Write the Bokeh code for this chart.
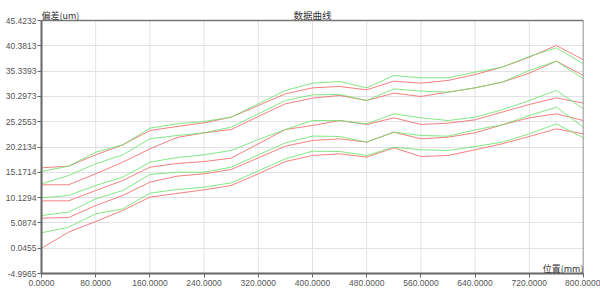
from bokeh.plotting import figure
from bokeh.models import FixedTicker, Label, Range1d
from bokeh.embed import file_html
from bokeh.resources import INLINE

# ---- data ----
x_mm = [0, 40, 80, 120, 160, 200, 240, 280, 320, 360, 400,
        440, 480, 520, 560, 600, 640, 680, 720, 760, 800]

red_a = [16.06, 16.39, 18.65, 20.65, 23.50, 24.30, 25.03, 26.16, 28.48, 30.81, 32.00,
         32.27, 31.61, 33.33, 32.94, 33.47, 34.66, 36.12, 38.12, 40.44, 37.58]
green_a = [15.33, 16.39, 19.18, 20.65, 23.97, 24.83, 25.30, 26.16, 28.82, 31.47, 32.93,
           33.27, 32.00, 34.46, 34.00, 34.00, 35.13, 36.12, 38.25, 39.98, 36.79]
green_b = [12.87, 14.53, 16.86, 18.65, 21.84, 22.51, 23.04, 24.17, 26.82, 29.48, 30.61,
           30.67, 29.48, 31.80, 31.34, 31.14, 32.00, 33.13, 35.46, 37.32, 33.80]
red_b = [12.68, 12.68, 14.87, 17.19, 19.85, 22.11, 23.04, 23.70, 26.29, 28.82, 29.95,
         30.48, 29.48, 30.94, 30.28, 31.14, 32.00, 33.13, 34.93, 37.32, 34.46]
green_c = [10.08, 10.55, 12.54, 14.20, 17.19, 18.12, 18.65, 19.52, 21.71, 23.70, 25.49,
           25.48, 24.83, 26.82, 26.03, 25.49, 26.16, 27.62, 29.48, 31.47, 27.82]
red_c = [9.48, 9.48, 11.54, 13.54, 16.19, 16.92, 17.32, 17.99, 20.85, 23.70, 24.50,
         25.48, 24.70, 26.03, 24.70, 24.96, 25.63, 27.16, 28.68, 30.01, 28.95]
green_d = [6.56, 7.23, 9.88, 11.54, 14.73, 15.20, 15.20, 16.19, 18.65, 21.04, 22.39,
           22.31, 21.18, 23.17, 22.51, 22.37, 23.63, 24.63, 26.49, 28.15, 24.17]
red_d = [6.03, 6.16, 8.55, 10.55, 13.21, 14.40, 14.87, 15.73, 18.05, 20.38, 21.51,
         21.84, 21.18, 23.17, 21.84, 22.17, 23.04, 24.63, 26.03, 26.82, 25.49]
green_e = [3.11, 4.24, 6.89, 7.89, 11.01, 11.74, 12.21, 13.07, 15.46, 17.86, 19.38,
           19.32, 18.52, 20.18, 19.65, 19.52, 20.31, 21.18, 22.84, 24.83, 22.04]
red_e = [0.05, 3.24, 5.37, 7.56, 10.22, 10.95, 11.68, 12.54, 14.87, 17.32, 18.52,
         18.85, 18.19, 20.05, 18.32, 18.52, 19.65, 20.85, 22.31, 23.83, 22.84]

red_series = [red_a, red_b, red_c, red_d, red_e]
green_series = [green_a, green_b, green_c, green_d, green_e]

x_ticks = [0, 80, 160, 240, 320, 400, 480, 560, 640, 720, 800]
x_tick_labels = ["0.0000", "80.0000", "160.0000", "240.0000", "320.0000", "400.0000",
                 "480.0000", "560.0000", "640.0000", "720.0000", "800.0000"]
y_ticks = [-4.9965, 0.04547, 5.08744, 10.12941, 15.17138, 20.21335,
           25.25532, 30.29729, 35.33926, 40.38123, 45.4232]
y_tick_labels = ["-4.9965", "0.0455", "5.0874", "10.1294", "15.1714", "20.2134",
                 "25.2553", "30.2973", "35.3393", "40.3813", "45.4232"]

title_text = "数据曲线"
x_label = "位置(mm)"
y_label = "偏差(um)"

y_min = y_ticks[0]
y_max = y_ticks[-1]
x_min = x_ticks[0]
x_max = x_ticks[-1]
px_per_unit = 253 / (y_max - y_min)          # plot body is 253 px tall
y_top_room = y_max + 20 / px_per_unit        # 20 px of room above the body

# ---- figure ----
p = figure(width=600, height=290, output_backend="svg", toolbar_location=None,
           x_range=Range1d(x_min, x_max), y_range=Range1d(y_min, y_top_room),
           min_border_left=41, min_border_right=17, min_border_top=0,
           min_border_bottom=17)
p.background_fill_color = "white"
p.border_fill_color = "white"
p.outline_line_color = None

for ax in (p.xaxis, p.yaxis):
    ax.axis_line_color = "#666666"
    ax.axis_line_width = 2
    ax.major_tick_line_color = "#666666"
    ax.minor_tick_line_color = None
    ax.major_tick_in = 0
    ax.major_tick_out = 4
    ax.major_label_text_font = "Liberation Sans"
    ax.major_label_text_font_size = "8.5px"
    ax.major_label_text_color = "#555555"
    ax.major_label_standoff = 2

p.xaxis.ticker = FixedTicker(ticks=x_ticks)
p.xaxis.major_label_overrides = {t: l for t, l in zip(x_ticks, x_tick_labels)}
p.yaxis.ticker = FixedTicker(ticks=y_ticks)
p.yaxis.major_label_overrides = {t: l for t, l in zip(y_ticks, y_tick_labels)}
p.yaxis.major_label_standoff = 1
p.yaxis.bounds = (y_min, y_max)

# grid: horizontal via Bokeh grid, vertical via segments limited to the body
p.xgrid.grid_line_color = None
p.ygrid.grid_line_color = "#e2e2e2"
p.ygrid.grid_line_width = 1
n = len(x_ticks)
p.segment(x0=x_ticks, y0=[y_min] * n, x1=x_ticks, y1=[y_max] * n,
          line_color="#e2e2e2", line_width=1, level="underlay")

for ys in red_series:
    p.line(x_mm, ys, line_color="#f06a6a", line_width=1, line_alpha=0.85)
for ys in green_series:
    p.line(x_mm, ys, line_color="#6ee36e", line_width=1, line_alpha=0.85)

# frame: top and right border lines
p.segment(x0=[x_min, x_max], y0=[y_max, y_min], x1=[x_max, x_max], y1=[y_max, y_max],
          line_color="#777777", line_width=1.5)

p.add_layout(Label(x=(x_min + x_max) / 2, y=y_max + 6 / px_per_unit, text=title_text,
                   text_align="center", text_baseline="middle",
                   text_font="Noto Sans CJK SC", text_font_size="9.5px",
                   text_color="#333333"))
p.add_layout(Label(x=x_min, y=y_max + 5 / px_per_unit, text=y_label,
                   text_align="left", text_baseline="middle",
                   text_font="Noto Sans CJK SC", text_font_size="9px",
                   text_color="#333333"))
p.add_layout(Label(x=x_max, y=y_min + 5 / px_per_unit, text=x_label,
                   text_align="right", text_baseline="middle",
                   text_font="Noto Sans CJK SC", text_font_size="9px",
                   text_color="#333333"))

open("out.html", "w").write(file_html(p, INLINE))
